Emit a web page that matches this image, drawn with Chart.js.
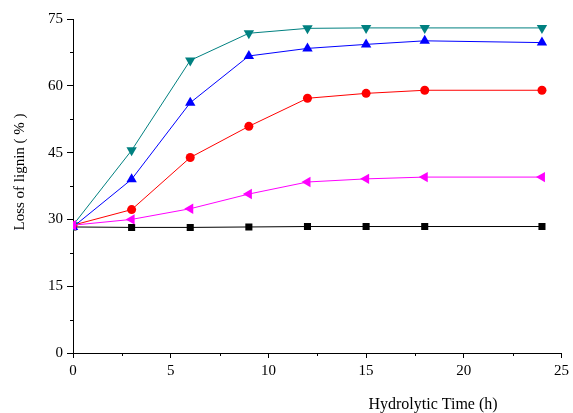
<!DOCTYPE html>
<html>
<head>
<meta charset="utf-8">
<script src="https://cdn.jsdelivr.net/npm/chart.js@4/dist/chart.umd.min.js"></script>
<style>
  html, body { margin: 0; padding: 0; background: #fff; }
</style>
</head>
<body>
<canvas id="lignin" width="573" height="413"></canvas>
<script>
// hydrolysis time (h) and loss of lignin (%) for each run
const hours = [0, 3, 6, 9, 12, 15, 18, 24];
const lossMagenta = [28.7, 30.0, 32.4, 35.7, 38.4, 39.1, 39.5, 39.5];
const lossTeal = [28.7, 45.5, 65.7, 71.8, 72.9, 73.0, 73.0, 73.0];
const lossBlue = [28.3, 39.0, 56.2, 66.7, 68.4, 69.3, 70.1, 69.7];
const lossRed = [28.7, 32.2, 43.9, 50.9, 57.2, 58.3, 59.0, 59.0];
const lossBlack = [28.3, 28.2, 28.2, 28.3, 28.4, 28.4, 28.4, 28.4];

const xTicks = [0, 5, 10, 15, 20, 25];
const yTicks = [0, 15, 30, 45, 60, 75];
const xTitle = 'Hydrolytic Time (h)';
const yTitle = 'Loss of lignin ( % )';

const serif = '"Liberation Serif", "Times New Roman", serif';

function toPoints(values) {
  return hours.map((h, i) => ({ x: h, y: values[i] }));
}

function series(values, color, style, rotation, radius) {
  return {
    data: toPoints(values),
    borderColor: color,
    backgroundColor: color,
    borderWidth: 1,
    pointStyle: style,
    rotation: rotation,
    pointRadius: radius,
    pointBorderWidth: 0,
    pointHoverRadius: radius
  };
}

// minor ticks and the two axis titles
const axisExtras = {
  id: 'axisExtras',
  afterDraw(chart) {
    const ctx = chart.ctx;
    const x = chart.scales.x;
    const y = chart.scales.y;
    const area = chart.chartArea;
    ctx.save();
    ctx.strokeStyle = '#000';
    ctx.lineWidth = 1;
    ctx.beginPath();
    for (let v = 2.5; v < 25; v += 5) {
      const px = Math.round(x.getPixelForValue(v)) + 0.5;
      ctx.moveTo(px, area.bottom);
      ctx.lineTo(px, area.bottom + 3);
    }
    for (let v = 7.5; v < 75; v += 15) {
      const py = Math.round(y.getPixelForValue(v)) + 0.5;
      ctx.moveTo(area.left, py);
      ctx.lineTo(area.left - 3, py);
    }
    ctx.stroke();

    ctx.fillStyle = '#000';
    ctx.textAlign = 'center';
    ctx.textBaseline = 'middle';
    ctx.font = '16px ' + serif;
    ctx.fillText(xTitle, 433, 405);
    ctx.translate(20, 172);
    ctx.rotate(-Math.PI / 2);
    ctx.font = '15px ' + serif;
    ctx.fillText(yTitle, 0, 0);
    ctx.restore();
  }
};

new Chart(document.getElementById('lignin').getContext('2d'), {
  type: 'line',
  data: {
    datasets: [
      series(lossMagenta, '#FF00FF', 'triangle', -90, 6),
      series(lossTeal, '#008080', 'triangle', 180, 6),
      series(lossBlue, '#0000FF', 'triangle', 0, 6),
      series(lossRed, '#FF0000', 'circle', 0, 4.5),
      series(lossBlack, '#000000', 'rect', 0, 5)
    ]
  },
  options: {
    responsive: false,
    animation: false,
    devicePixelRatio: 1,
    layout: { padding: { left: 0, right: 9, top: 19, bottom: 0 } },
    plugins: {
      legend: { display: false },
      tooltip: { enabled: false }
    },
    scales: {
      x: {
        type: 'linear',
        min: 0,
        max: 25,
        afterFit: (scale) => { scale.height = 60; },
        afterBuildTicks: (scale) => { scale.ticks = xTicks.map(v => ({ value: v })); },
        border: { display: true, color: '#000', width: 1 },
        grid: { display: true, drawOnChartArea: false, drawTicks: true, tickLength: 5, color: '#000' },
        ticks: { color: '#000', padding: 4, maxRotation: 0, font: { family: serif, size: 15 } }
      },
      y: {
        type: 'linear',
        min: 0,
        max: 75,
        afterFit: (scale) => { scale.width = 73; },
        afterBuildTicks: (scale) => { scale.ticks = yTicks.map(v => ({ value: v })); },
        border: { display: true, color: '#000', width: 1 },
        grid: { display: true, drawOnChartArea: false, drawTicks: true, tickLength: 6, color: '#000' },
        ticks: { color: '#000', padding: 4, font: { family: serif, size: 15 } }
      }
    }
  },
  plugins: [axisExtras]
});
</script>
</body>
</html>
